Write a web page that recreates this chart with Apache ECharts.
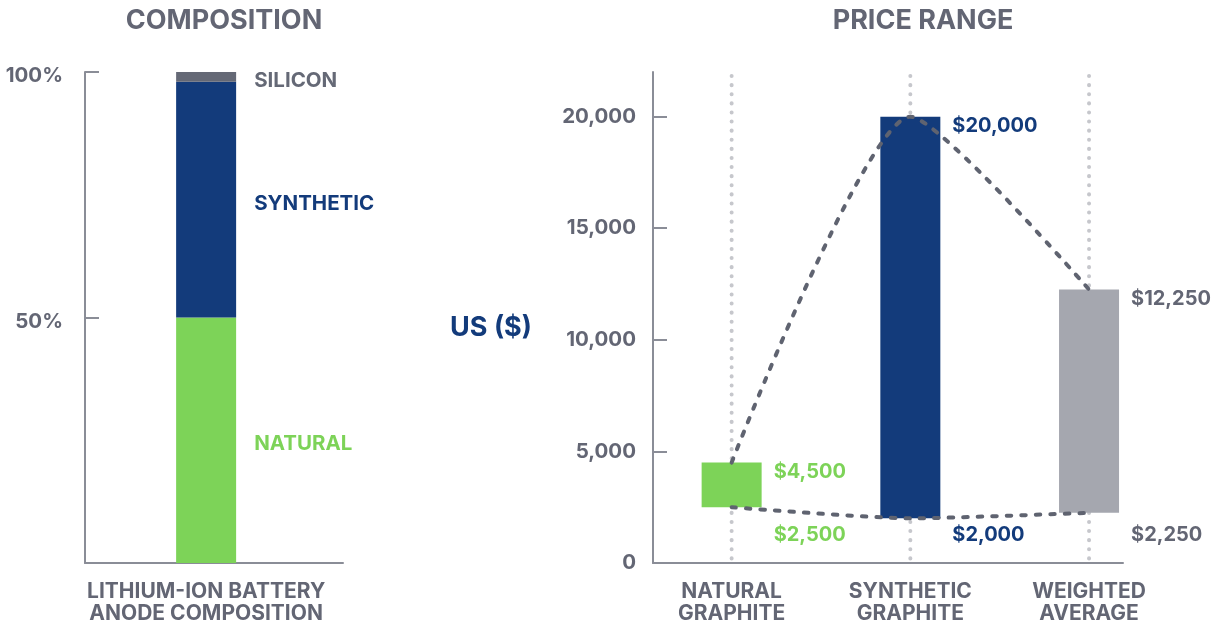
<!DOCTYPE html>
<html>
<head>
<meta charset="utf-8">
<title>Graphite: anode composition and price range</title>
<script src="https://cdn.jsdelivr.net/npm/echarts@6/dist/echarts.min.js"></script>
<style>
  html, body { margin: 0; padding: 0; background: #fff; }
  #chart { width: 1223px; height: 624px; }
</style>
</head>
<body>
<div id="chart"></div>
<script>
// composition (left chart), share in %
var compNames = ['NATURAL', 'SYNTHETIC', 'SILICON'];
var compShare = [50, 48, 2];
var compCategory = 'LITHIUM-ION BATTERY\nANODE COMPOSITION';
var compTicks = [50, 100];

// price range (right chart), US$
var priceNames = ['NATURAL\nGRAPHITE', 'SYNTHETIC\nGRAPHITE', 'WEIGHTED\nAVERAGE'];
var priceLow = [2500, 2000, 2250];
var priceHigh = [4500, 20000, 12250];
var priceTicks = [0, 5000, 10000, 15000, 20000];

var GREEN = '#7dd358', NAVY = '#133b7b', GREY_BAR = '#a5a7af', SILICON = '#656976';
var TEXT = '#636674', AXIS = '#8a8d97', DASH = '#5f6370', DOT = '#c6c7cc';
var FONT = 'Inter, "Open Sans", sans-serif';

var compColors = [GREEN, NAVY, SILICON];
var compLabelColors = [GREEN, NAVY, SILICON];
var priceColors = [GREEN, NAVY, GREY_BAR];
var priceLabelColors = [GREEN, NAVY, TEXT];

// cumulative segments for the stacked composition bar
var compData = [];
var acc = 0;
compShare.forEach(function (v) {
  compData.push([0, acc, acc + v]);
  acc += v;
});
var priceData = priceNames.map(function (n, i) { return [i, priceLow[i], priceHigh[i]]; });

function money(v) { return '$' + v.toLocaleString('en-US'); }

var axisText = { color: TEXT, fontFamily: FONT, fontWeight: 'bold', fontSize: 20.5 };
var catText = { color: TEXT, fontFamily: FONT, fontWeight: 'bold', fontSize: 21, lineHeight: 22.5 };
var LABEL_FONT = 'bold 20px ' + FONT;

var chart = echarts.init(document.getElementById('chart'));
var option = {
  animation: false,
  graphic: [
    { type: 'text', x: 224, y: 21, style: { text: 'COMPOSITION', align: 'center', verticalAlign: 'middle', font: 'bold 27px ' + FONT, fill: TEXT } },
    { type: 'text', x: 923, y: 21, style: { text: 'PRICE RANGE', align: 'center', verticalAlign: 'middle', font: 'bold 27px ' + FONT, fill: TEXT } },
    { type: 'text', x: 491, y: 328, style: { text: 'US ($)', align: 'center', verticalAlign: 'middle', font: 'bold 27px ' + FONT, fill: NAVY } }
  ],
  grid: [
    { left: 85, top: 72, width: 258, height: 491, outerBoundsMode: 'none' },
    { left: 653, top: 72, width: 470, height: 491, outerBoundsMode: 'none' }
  ],
  xAxis: [
    {
      gridIndex: 0, type: 'value', min: -1, max: 1.13,
      axisLine: { show: true, onZero: false, lineStyle: { color: AXIS, width: 2 } },
      axisTick: { show: false }, splitLine: { show: false },
      axisLabel: Object.assign({ customValues: [0], margin: 17, formatter: function () { return compCategory; } }, catText)
    },
    {
      gridIndex: 1, type: 'value', min: -0.44, max: 2.19,
      axisLine: { show: true, onZero: false, lineStyle: { color: AXIS, width: 2 } },
      axisTick: { show: false }, splitLine: { show: false },
      axisLabel: Object.assign({ customValues: [0, 1, 2], margin: 17, formatter: function (v) { return priceNames[v]; } }, catText)
    }
  ],
  yAxis: [
    {
      gridIndex: 0, type: 'value', min: 0, max: 100,
      axisLine: { show: true, onZero: false, lineStyle: { color: AXIS, width: 2 } },
      axisTick: { show: true, inside: true, length: 14, customValues: compTicks, lineStyle: { color: AXIS, width: 2 } },
      splitLine: { show: false },
      axisLabel: Object.assign({ customValues: compTicks, margin: 22, verticalAlign: 'top', lineHeight: 8,
        formatter: function (v) { return v + '%'; } }, axisText)
    },
    {
      gridIndex: 1, type: 'value', min: 0, max: 22000,
      axisLine: { show: true, onZero: false, lineStyle: { color: AXIS, width: 2 } },
      axisTick: { show: true, inside: true, length: 14, customValues: priceTicks, lineStyle: { color: AXIS, width: 2 } },
      splitLine: { show: false },
      axisLabel: Object.assign({ customValues: priceTicks, margin: 17, formatter: function (v) { return v.toLocaleString('en-US'); } }, axisText)
    }
  ],
  series: [
    {
      name: 'composition',
      type: 'custom',
      xAxisIndex: 0, yAxisIndex: 0,
      encode: { x: 0, y: [1, 2] },
      data: compData,
      renderItem: function (params, api) {
        var i = params.dataIndex;
        var top = api.coord([api.value(0), api.value(2)]);
        var bot = api.coord([api.value(0), api.value(1)]);
        return {
          type: 'group',
          children: [
            { type: 'rect', shape: { x: top[0] - 30, y: top[1], width: 60, height: bot[1] - top[1] }, style: { fill: compColors[i] } },
            { type: 'text', x: top[0] + 48, y: (top[1] + bot[1]) / 2 + 4,
              style: { text: compNames[i], fill: compLabelColors[i], font: 'bold 20.5px ' + FONT, align: 'left', verticalAlign: 'middle' } }
          ]
        };
      }
    },
    {
      name: 'price range',
      type: 'custom',
      xAxisIndex: 1, yAxisIndex: 1,
      z: 2,
      encode: { x: 0, y: [1, 2] },
      data: priceData,
      renderItem: function (params, api) {
        var i = params.dataIndex;
        var x = api.value(0);
        var top = api.coord([x, api.value(2)]);
        var bot = api.coord([x, api.value(1)]);
        var cs = params.coordSys;
        return {
          type: 'group',
          children: [
            { type: 'line', shape: { x1: top[0], y1: cs.y + 4, x2: top[0], y2: cs.y + cs.height - 2 },
              style: { stroke: DOT, lineWidth: 4, lineDash: [0.1, 9], lineCap: 'round' } },
            { type: 'rect', shape: { x: top[0] - 30, y: top[1], width: 60, height: bot[1] - top[1] }, style: { fill: priceColors[i] } },
            { type: 'text', x: top[0] + 42, y: top[1] + 9,
              style: { text: money(api.value(2)), fill: priceLabelColors[i], font: LABEL_FONT, align: 'left', verticalAlign: 'middle' } },
            { type: 'text', x: top[0] + 42, y: cs.y + cs.height - 28,
              style: { text: money(api.value(1)), fill: priceLabelColors[i], font: LABEL_FONT, align: 'left', verticalAlign: 'middle' } }
          ]
        };
      }
    },
    {
      name: 'high',
      type: 'line',
      xAxisIndex: 1, yAxisIndex: 1,
      z: 3,
      smooth: 0.2,
      symbol: 'none',
      data: priceHigh.map(function (v, i) { return [i, v]; }),
      lineStyle: { color: DASH, width: 4, type: [4.5, 10], cap: 'round' }
    },
    {
      name: 'low',
      type: 'line',
      xAxisIndex: 1, yAxisIndex: 1,
      z: 3,
      smooth: 0.2,
      symbol: 'none',
      data: priceLow.map(function (v, i) { return [i, v]; }),
      lineStyle: { color: DASH, width: 4, type: [4.5, 10], cap: 'round' }
    }
  ]
};
chart.setOption(option);
</script>
</body>
</html>
